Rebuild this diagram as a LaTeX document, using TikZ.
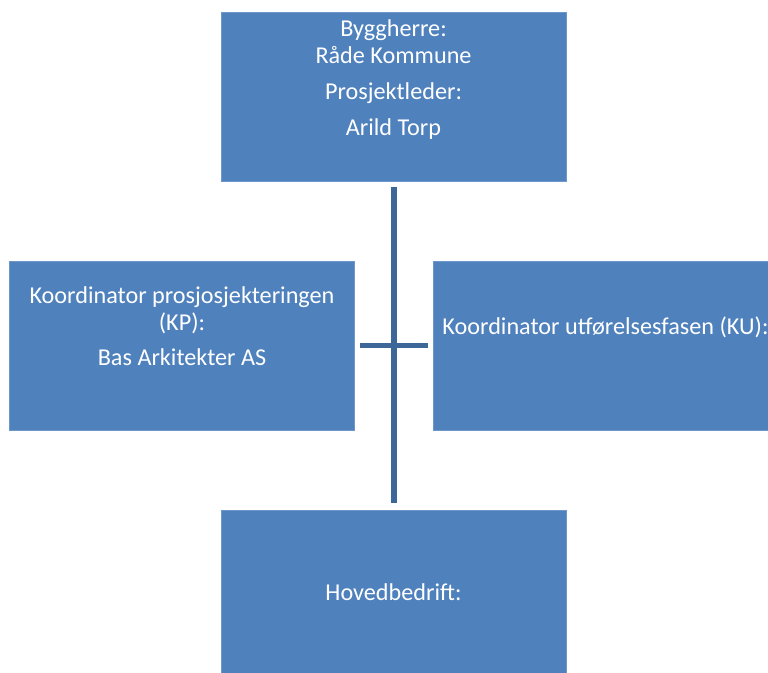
\documentclass[tikz,border=0pt]{standalone}
\usepackage{fontspec}
\setmainfont{Carlito}
\definecolor{boxblue}{HTML}{4F81BD}
\definecolor{boxedge}{HTML}{6E98CB}
\definecolor{linkblue}{HTML}{3D6798}
\begin{document}
\begin{tikzpicture}[x=1pt,y=-1pt,
  orgbox/.style={fill=boxblue,draw=boxedge,line width=1pt,minimum width=345pt,minimum height=169pt,inner sep=0pt,outer sep=0pt},
  boxtext/.style={text=white,font=\fontsize{24.2}{29}\selectfont,anchor=base,inner sep=0pt},
  link/.style={draw=linkblue,line width=6pt}]
\useasboundingbox (0,0) rectangle (768,672);
\node[orgbox] (top) at (393.5,96.5) {};
\node[orgbox] (left) at (182,345.5) {};
\node[orgbox] (right) at (605.5,345.5) {};
\node[orgbox] (bottom) at (393.5,594.5) {};
\node[boxtext] (t1) at (393.5,36) {Byggherre:};
\node[boxtext] (t2) at (393.5,63) {Råde Kommune};
\node[boxtext] (t3) at (393.5,99) {Prosjektleder:};
\node[boxtext] (t4) at (393.5,135) {Arild Torp};
\node[boxtext] (l1) at (182,303) {Koordinator prosjosjekteringen};
\node[boxtext] (l2) at (182,330) {(KP):};
\node[boxtext] (l3) at (182,365) {Bas Arkitekter AS};
\node[boxtext] (r1) at (605.5,334) {Koordinator utførelsesfasen (KU):};
\node[boxtext] (b1) at (393.5,600) {Hovedbedrift:};
\coordinate (vtop) at (394,187);
\coordinate (vbot) at (394,503);
\coordinate (hl) at (360,345.5);
\coordinate (hr) at (428,345.5);
\draw[link] (vtop) -- (vbot);
\draw[link,line width=5pt] (hl) -- (hr);
\end{tikzpicture}
\end{document}
